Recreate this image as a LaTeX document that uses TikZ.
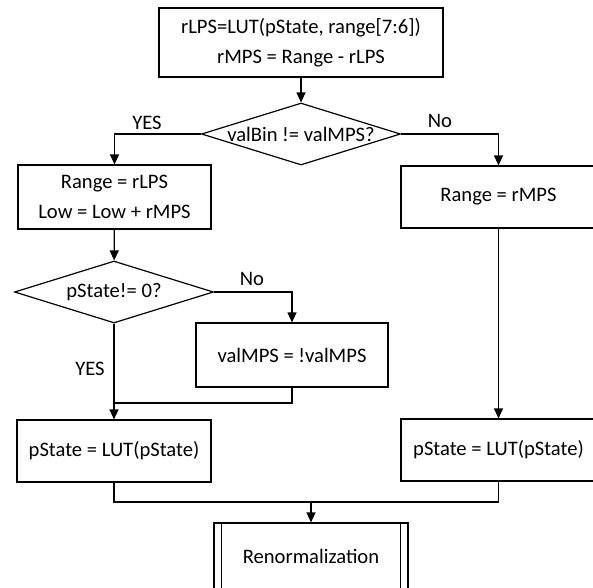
\documentclass[tikz,border=0pt]{standalone}
\usepackage{fontspec}
\setmainfont{Carlito}
\usetikzlibrary{shapes.geometric,arrows.meta}
\begin{document}
\begin{tikzpicture}[x=1pt,y=-1pt,
  every node/.style={font=\fontsize{20.6}{30}\selectfont},
  box/.style={draw, line width=1.2pt, rectangle, inner sep=0pt, align=center},
  decision/.style={draw, line width=1.2pt, diamond, inner sep=0pt},
  flow/.style={line width=1.2pt, -{Triangle[length=10pt,width=9pt]}},
  link/.style={line width=1.2pt},
  lbl/.style={inner sep=0pt}]
\clip (0,0) rectangle (593,587);

% process boxes and decisions
\node[box, minimum width=284pt, minimum height=69pt] (top) at (301,42.5)
  {rLPS=LUT(pState, range[7:6])\\rMPS = Range - rLPS};
\node[decision, minimum width=199pt, minimum height=62pt] (d1) at (301,134)
  {\makebox[0pt]{valBin != valMPS?}};
\node[box, minimum width=193pt, minimum height=64pt] (lb1) at (114.5,197)
  {Range = rLPS\\Low = Low + rMPS};
\node[box, minimum width=195pt, minimum height=62pt] (rb1) at (498.5,197)
  {Range = rMPS};
\node[decision, minimum width=199pt, minimum height=62pt] (d2) at (114,292)
  {\makebox[0pt]{pState!= 0?}};
\node[box, minimum width=192pt, minimum height=64pt] (vm) at (292,355)
  {valMPS = !valMPS};
\node[box, minimum width=194pt, minimum height=62pt] (lp) at (114,451)
  {pState = LUT(pState)};
\node[box, minimum width=195pt, minimum height=62pt] (rp) at (498.5,450)
  {pState = LUT(pState)};
\node[box, minimum width=194pt, minimum height=67pt] (ren) at (311,556.5)
  {Renormalization};
\draw[link] ([xshift=8pt]ren.north west) -- ([xshift=8pt]ren.south west);
\draw[link] ([xshift=-8pt]ren.north east) -- ([xshift=-8pt]ren.south east);

% branch labels
\node[lbl] (yes1) at (147,123) {YES};
\node[lbl] (no1) at (440,121) {No};
\node[lbl] (no2) at (252,279) {No};
\node[lbl] (yes2) at (90,369) {YES};

% connectors
\coordinate (j1) at (114,403);
\coordinate (j2) at (311,502);
\draw[flow] (top) -- (d1);
\draw[flow] (d1.west) -| (lb1.north);
\draw[flow] (d1.east) -| (rb1.north);
\draw[flow] (lb1) -- (d2);
\draw[flow] (rb1) -- (rp);
\draw[flow] (d2.east) -| (vm.north);
\draw[flow] (d2) -- (lp);
\draw[link] (vm.south) |- (j1);
\draw[link] (lp.south) |- (j2);
\draw[link] (rp.south) |- (j2);
\draw[flow] (j2) -- (ren);
\end{tikzpicture}
\end{document}
